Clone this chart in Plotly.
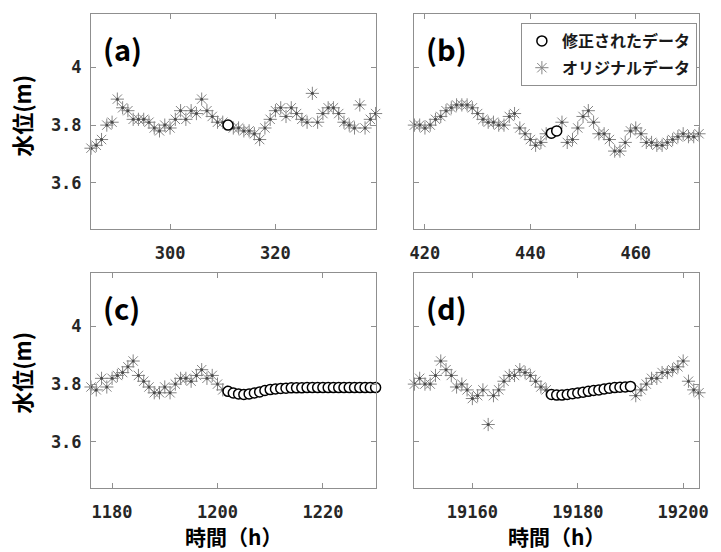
import plotly.graph_objects as go
from plotly.subplots import make_subplots

# ---- water level series (hourly), None = value replaced by the correction ----
hours_a = list(range(285, 340))
orig_a = [3.72, 3.73, 3.75, 3.80, 3.81, 3.89, 3.86, 3.85, 3.82, 3.82,
          3.82, 3.81, 3.79, 3.78, 3.80, 3.79, 3.82, 3.85, 3.82, 3.85,
          3.84, 3.89, 3.85, 3.83, 3.81, 3.81, None, 3.79, 3.79, 3.78,
          3.78, 3.77, 3.75, 3.79, 3.82, 3.85, 3.86, 3.83, 3.86, 3.84,
          3.82, 3.81, 3.91, 3.81, 3.84, 3.86, 3.86, 3.84, 3.81, 3.80,
          3.79, 3.87, 3.79, 3.82, 3.84]
fix_hours_a = [311]
fix_a = [3.80]

hours_b = list(range(418, 473))
orig_b = [3.80, 3.80, 3.79, 3.80, 3.82, 3.83, 3.85, 3.86, 3.87, 3.87,
          3.87, 3.86, 3.84, 3.82, 3.81, 3.81, 3.80, 3.80, 3.83, 3.84,
          3.79, 3.77, 3.75, 3.73, 3.74, 3.77, None, None, 3.81, 3.74,
          3.75, 3.79, 3.83, 3.85, 3.81, 3.77, 3.77, 3.75, 3.71, 3.71,
          3.74, 3.78, 3.79, 3.77, 3.74, 3.74, 3.73, 3.73, 3.74, 3.75,
          3.76, 3.77, 3.76, 3.76, 3.77]
fix_hours_b = [444, 445]
fix_b = [3.772, 3.780]

hours_c = list(range(1176, 1202))
orig_c = [3.79, 3.78, 3.82, 3.79, 3.82, 3.83, 3.84, 3.86, 3.88, 3.83,
          3.81, 3.79, 3.77, 3.77, 3.79, 3.77, 3.80, 3.82, 3.82, 3.81,
          3.83, 3.85, 3.82, 3.83, 3.80, 3.78]
fix_hours_c = list(range(1202, 1231))
fix_c = [3.775, 3.769, 3.766, 3.764, 3.766, 3.769, 3.773, 3.778, 3.781, 3.783,
         3.785, 3.786, 3.787, 3.787, 3.787, 3.788, 3.788, 3.788, 3.788, 3.788,
         3.788, 3.788, 3.788, 3.788, 3.788, 3.788, 3.788, 3.788, 3.788]

hours_d = list(range(19149, 19204))
orig_d = [3.80, 3.82, 3.80, 3.80, 3.83, 3.88, 3.85, 3.83, 3.79, 3.80,
          3.78, 3.75, 3.76, 3.78, 3.66, 3.76, 3.78, 3.81, 3.83, 3.83,
          3.85, 3.84, 3.83, 3.81, 3.79, 3.78,
          None, None, None, None, None, None, None, None,
          None, None, None, None, None, None, None, None,
          3.76, 3.78, 3.80, 3.82, 3.82, 3.84, 3.84, 3.85, 3.86, 3.88,
          3.81, 3.78, 3.77]
fix_hours_d = list(range(19175, 19191))
fix_d = [3.764, 3.762, 3.762, 3.764, 3.767, 3.769, 3.772, 3.775, 3.778, 3.780,
         3.783, 3.786, 3.788, 3.789, 3.790, 3.792]

x_ranges = [[285, 339], [418, 472], [1176, 1230], [19149, 19203]]
x_ticks = [[300, 320], [420, 440, 460], [1180, 1200, 1220], [19160, 19180, 19200]]
y_ticks = [3.6, 3.8, 4.0]
y_ticktext = ["3.6", "3.8", "4"]
panel_tags = ["(a)", "(b)", "(c)", "(d)"]

NAME_FIX = "修正されたデータ"
NAME_ORIG = "オリジナルデータ"

STAR_COLOR = "#858585"
FRAME = "#8f8f8f"
CJK = "Noto Sans CJK JP"
MONO = "DejaVu Sans Mono"

panels = [(hours_a, orig_a, fix_hours_a, fix_a),
          (hours_b, orig_b, fix_hours_b, fix_b),
          (hours_c, orig_c, fix_hours_c, fix_c),
          (hours_d, orig_d, fix_hours_d, fix_d)]

fig = make_subplots(rows=2, cols=2)

for k, (hx, hy, fx, fy) in enumerate(panels):
    r, c = k // 2 + 1, k % 2 + 1
    first = k == 0
    fig.add_trace(go.Scatter(
        x=hx, y=hy, mode="markers", name=NAME_ORIG, showlegend=first,
        legendrank=2, legendgroup="orig", cliponaxis=False,
        marker=dict(symbol="asterisk-open", size=11, color=STAR_COLOR,
                    line=dict(color=STAR_COLOR, width=1)),
    ), row=r, col=c)
    # darker hub where the asterisk strokes cross
    fig.add_trace(go.Scatter(
        x=hx, y=hy, mode="markers", showlegend=False, hoverinfo="skip",
        legendgroup="orig", cliponaxis=False,
        marker=dict(symbol="circle", size=3, color="#4a4a4a", line=dict(width=0)),
    ), row=r, col=c)
    fig.add_trace(go.Scatter(
        x=fx, y=fy, mode="markers", name=NAME_FIX, showlegend=first,
        legendrank=1, legendgroup="fix", cliponaxis=False,
        marker=dict(symbol="circle", size=10, color="white",
                    line=dict(color="black", width=1.5)),
    ), row=r, col=c)

W, H = 721, 552
L, R, T, B = 91, 19, 14, 64
pw, ph = W - L - R, H - T - B
x_dom = [[0, 286 / pw], [325 / pw, 1]]
y_dom = [[259 / ph, 1], [0, 215 / ph]]

axis_common = dict(showline=True, linecolor=FRAME, linewidth=1, mirror="ticks",
                   ticks="inside", ticklen=5, tickcolor=FRAME, showgrid=False,
                   zeroline=False,
                   tickfont=dict(family=MONO, size=17, color="#262626", weight="bold"))

for k in range(4):
    r, c = k // 2, k % 2
    sfx = "" if k == 0 else str(k + 1)
    fig.layout["xaxis" + sfx].update(
        domain=x_dom[c], range=x_ranges[k], tickvals=x_ticks[k],
        ticktext=[str(v) for v in x_ticks[k]],
        ticklabelstandoff=9, **axis_common)
    fig.layout["yaxis" + sfx].update(
        domain=y_dom[r], range=[3.44, 4.185], tickvals=y_ticks,
        ticktext=y_ticktext, showticklabels=(c == 0), ticklabelstandoff=5,
        **axis_common)
    fig.add_annotation(
        text=panel_tags[k], xref=f"x{sfx} domain", yref=f"y{sfx} domain",
        x=0.035, y=0.84, xanchor="left", yanchor="middle", showarrow=False,
        font=dict(family=CJK, size=29, color="black", weight="bold"))

# axis titles
for yc in [116, 373]:
    fig.add_annotation(
        text="水位(m)", xref="paper", yref="paper",
        x=(20.5 - L) / pw, y=(H - B - yc) / ph, textangle=-90,
        xanchor="center", yanchor="middle", showarrow=False,
        font=dict(family=CJK, size=22, color="black", weight="bold"))
for xc in [234, 559]:
    fig.add_annotation(
        text="時間（h）", xref="paper", yref="paper",
        x=(xc - L) / pw, y=(H - B - 536) / ph,
        xanchor="center", yanchor="middle", showarrow=False,
        font=dict(family=CJK, size=21, color="black", weight="bold"))

fig.update_layout(
    width=W, height=H, margin=dict(l=L, r=R, t=T, b=B),
    paper_bgcolor="white", plot_bgcolor="white",
    legend=dict(x=(523 - L) / pw, y=(H - B - 23) / ph, xanchor="left",
                yanchor="top", bgcolor="white", bordercolor=FRAME,
                borderwidth=1, tracegroupgap=3, itemwidth=30,
                font=dict(family=CJK, size=16, color="#1a1a1a", weight="bold")),
)

fig.write_html("out.html")
